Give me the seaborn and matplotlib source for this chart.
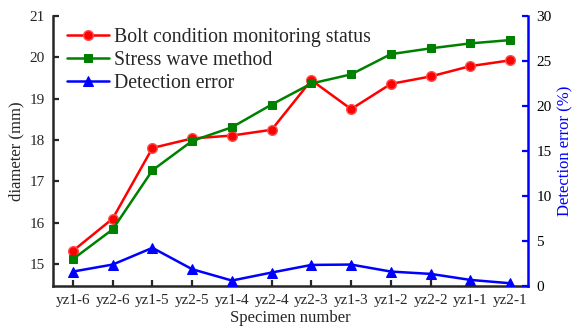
import matplotlib
matplotlib.use("Agg")
import matplotlib.pyplot as plt
import seaborn as sns
import pandas as pd

specimens = ["yz1-6", "yz2-6", "yz1-5", "yz2-5", "yz1-4", "yz2-4",
             "yz2-3", "yz1-3", "yz1-2", "yz2-2", "yz1-1", "yz2-1"]
bolt_status = [15.32, 16.10, 17.81, 18.04, 18.11, 18.25,
               19.45, 18.75, 19.36, 19.54, 19.79, 19.93]
stress_wave = [15.12, 15.84, 17.27, 17.98, 18.31, 18.86,
               19.37, 19.59, 20.08, 20.22, 20.34, 20.42]
detection_error = [1.56, 2.34, 4.20, 1.82, 0.56, 1.45,
                   2.30, 2.34, 1.56, 1.30, 0.63, 0.26]

sns.set_style("ticks")
plt.rcParams["font.family"] = ["Liberation Serif", "DejaVu Serif"]

df = pd.DataFrame({"specimen": specimens, "bolt": bolt_status,
                   "wave": stress_wave, "err": detection_error})

fig = plt.figure(figsize=(5.77, 3.29), dpi=100)
ax = fig.add_axes([0.092, 0.132, 0.823, 0.819])
ax2 = ax.twinx()

sns.lineplot(data=df, x="specimen", y="bolt", ax=ax, color="#ff0000", lw=1.8,
             marker="o", markersize=7, markeredgecolor="#ff5050", markeredgewidth=1.0,
             label="Bolt condition monitoring status", legend=False, sort=False)
sns.lineplot(data=df, x="specimen", y="wave", ax=ax, color="#008000", lw=1.8,
             marker="s", markersize=6, markeredgecolor="#008000",
             label="Stress wave method", legend=False, sort=False)
sns.lineplot(data=df, x="specimen", y="err", ax=ax2, color="#0000ff", lw=1.8,
             marker="^", markersize=7, markeredgecolor="#0000ff",
             label="Detection error", legend=False, sort=False)

ax.set_xlim(-0.5, 11.45)
ax.set_ylim(14.48, 21)
ax.set_yticks([15, 16, 17, 18, 19, 20, 21])
ax2.set_ylim(0, 30)
ax2.set_yticks([0, 5, 10, 15, 20, 25, 30])

ax.set_xlabel("Specimen number", fontsize=12, labelpad=2)
ax.set_ylabel("diameter (mm)", fontsize=12, labelpad=4)
ax2.set_ylabel("Detection error (%)", fontsize=12, color="#0000ff", labelpad=4)

for a in (ax, ax2):
    a.spines["top"].set_visible(False)
    for s in a.spines.values():
        s.set_linewidth(1.8)
    a.tick_params(direction="in", width=1.6, length=4, labelsize=11, pad=6)

ax.spines["right"].set_visible(False)
ax2.spines["left"].set_visible(False)
ax2.spines["bottom"].set_visible(False)
ax2.spines["right"].set_color("#0000ff")
ax2.tick_params(axis="y", colors="#0000ff", labelcolor="black")

h1, l1 = ax.get_legend_handles_labels()
h2, l2 = ax2.get_legend_handles_labels()
ax.legend(h1 + h2, l1 + l2, loc="upper left", frameon=False, fontsize=14.2,
          handlelength=2.1, handletextpad=0.25, labelspacing=0.2,
          borderaxespad=0.2, bbox_to_anchor=(0.005, 1.0))

fig.savefig("out.png", dpi=100)
